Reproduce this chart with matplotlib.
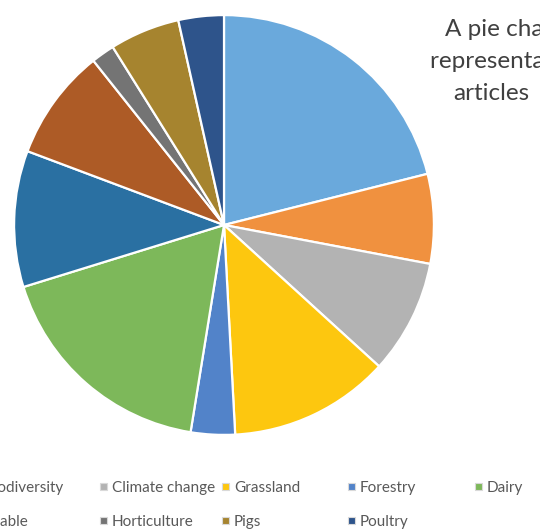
import matplotlib
matplotlib.use("Agg")
import matplotlib.pyplot as plt
from matplotlib.patches import Rectangle

# share of articles per topic (%), clockwise from 12 o'clock
topics = ["Animal health", "Biodiversity", "Climate change", "Grassland", "Forestry",
          "Dairy", "Beef", "Arable", "Horticulture", "Pigs", "Poultry"]
shares = [21.1, 6.9, 8.8, 12.4, 3.4, 17.7, 10.5, 8.6, 1.8, 5.4, 3.5]
colors = ["#6aa9dc", "#f0913f", "#b3b3b3", "#fdc70f", "#5283c9", "#7db85a",
          "#2a70a2", "#ad5b26", "#747474", "#a6842f", "#2e548b"]
title_lines = ["A pie chart of", "representation of", "articles"]

W, H = 540, 532
fig = plt.figure(figsize=(W / 100, H / 100), dpi=100)
fig.patch.set_facecolor("white")

ax = fig.add_axes([12 / W, 1 - 437 / H, 424 / W, 424 / H])
ax.pie(shares, colors=colors, startangle=90, counterclock=False, radius=1,
       wedgeprops=dict(edgecolor="white", linewidth=1.6))
ax.set_xlim(-1.01, 1.01)
ax.set_ylim(-1.01, 1.01)
ax.set_aspect("equal")
ax.axis("off")

# title, cut off at the right edge like the reference crop
for txt, (x, y) in zip(title_lines, [(445, 36), (430, 68), (453, 100)]):
    fig.text(x / W, 1 - y / H, txt, fontsize=17.5, family="Lato",
             color="#404040", ha="left", va="baseline")

# legend: Excel style, uniform columns, row-major, 6 per row
col_x = [-152, -27, 100, 222, 348, 475]
row_y = [487, 521]
for i, (name, c) in enumerate(zip(topics, colors)):
    r, k = divmod(i, 6)
    mx, my = col_x[k], row_y[r]
    fig.patches.append(Rectangle((mx / W, 1 - (my + 3) / H), 7 / W, 7 / H,
                                 transform=fig.transFigure, facecolor=c,
                                 edgecolor="#d9d9d9", linewidth=0.8))
    fig.text((mx + 12) / W, 1 - (my + 1) / H, name, fontsize=11, family="Lato",
             color="#595959", ha="left", va="center")

fig.savefig("out.png", dpi=100)
